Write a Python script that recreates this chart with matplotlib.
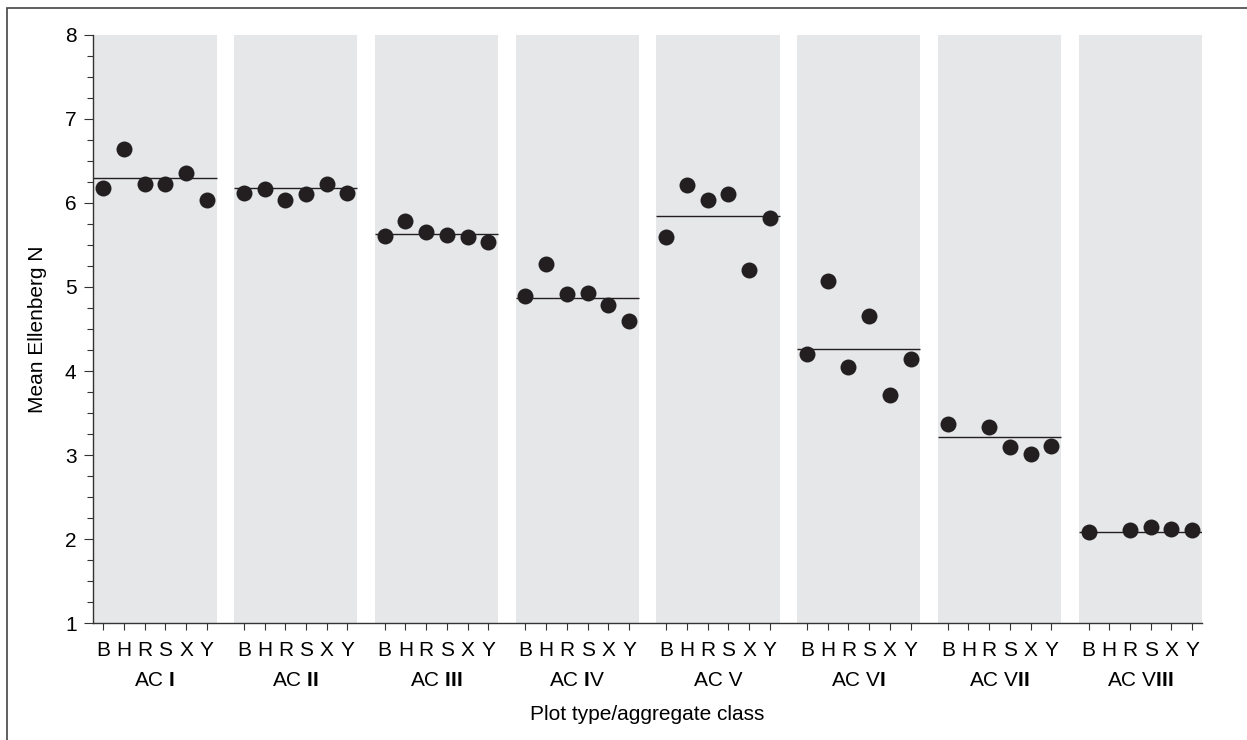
import numpy as np
import matplotlib.pyplot as plt
from matplotlib.patches import Rectangle
from matplotlib.ticker import MultipleLocator

plt.rcParams["font.family"] = ["Liberation Sans", "DejaVu Sans"]
plt.rcParams["mathtext.fontset"] = "custom"
plt.rcParams["mathtext.rm"] = "Liberation Sans"
plt.rcParams["mathtext.bf"] = "Liberation Sans:bold"

plot_types = ["B", "H", "R", "S", "X", "Y"]
classes = ["AC $\\mathbf{I}$", "AC $\\mathbf{II}$", "AC $\\mathbf{III}$", "AC $\\mathbf{I}$V",
           "AC V", "AC V$\\mathbf{I}$", "AC V$\\mathbf{II}$", "AC V$\\mathbf{III}$"]

ac1 = [6.18, 6.64, 6.23, 6.22, 6.35, 6.04]
ac2 = [6.12, 6.16, 6.03, 6.11, 6.22, 6.12]
ac3 = [5.61, 5.78, 5.65, 5.62, 5.59, 5.53]
ac4 = [4.89, 5.27, 4.92, 4.93, 4.79, 4.60]
ac5 = [5.59, 6.21, 6.04, 6.11, 5.20, 5.82]
ac6 = [4.20, 5.07, 4.05, 4.66, 3.72, 4.14]
ac7 = [3.37, np.nan, 3.33, 3.10, 3.01, 3.11]
ac8 = [2.08, np.nan, 2.11, 2.15, 2.12, 2.11]
values = [ac1, ac2, ac3, ac4, ac5, ac6, ac7, ac8]

# mean per aggregate class (horizontal lines)
means = [6.30, 6.18, 5.63, 4.87, 5.84, 4.26, 3.22, 2.09]

step = 6.8  # distance between groups
pad = 0.48
dot = "#231f20"

fig = plt.figure(figsize=(12.47, 7.4), dpi=100)
ax = fig.add_axes([0.0748, 0.1577, 0.8891, 0.7954])

xticks = []
xlabels = []
for k in range(len(classes)):
    x = k * step + np.arange(len(plot_types))
    ax.axvspan(x[0] - pad, x[-1] + pad, color="#e6e7e9", lw=0, zorder=0)
    ax.hlines(means[k], x[0] - pad, x[-1] + pad, color=dot, lw=1.0, zorder=2)
    ax.plot(x, values[k], "o", color=dot, ms=11.5, mec="none", zorder=3)
    xticks.extend(x)
    xlabels.extend(plot_types)
    ax.text(x.mean(), -0.1065, classes[k], transform=ax.get_xaxis_transform(),
            ha="center", va="baseline", fontsize=15)

ax.set_xlim(-pad, (len(classes) - 1) * step + 5 + pad)
ax.set_ylim(1, 8)
ax.set_xticks(xticks)
ax.set_xticklabels(xlabels, fontsize=15)
ax.yaxis.set_major_locator(MultipleLocator(1))
ax.yaxis.set_minor_locator(MultipleLocator(0.25))
ax.tick_params(axis="y", which="major", length=6.5, width=0.8, pad=5.5, labelsize=15, color="#333333")
ax.tick_params(axis="y", which="minor", length=4.3, width=0.8, color="#333333")
ax.tick_params(axis="x", length=4.8, width=0.8, pad=8, color="#333333")

for s in ["top", "right"]:
    ax.spines[s].set_visible(False)
for s in ["left", "bottom"]:
    ax.spines[s].set_color("#333333")
    ax.spines[s].set_linewidth(1.0)

ax.text(-0.0499, 0.5, "Mean Ellenberg N", transform=ax.transAxes, rotation=90,
        ha="center", va="center", fontsize=15)
ax.text(0.5, -0.1643, "Plot type/aggregate class", transform=ax.transAxes,
        ha="center", va="baseline", fontsize=15)

# frame around the figure
fig.patches.append(Rectangle((7 / 1247, -0.1), 1.2, 1.1 - 8 / 740, transform=fig.transFigure,
                             fill=False, edgecolor="#444444", lw=1.2))

plt.savefig("out.png", dpi=100)
